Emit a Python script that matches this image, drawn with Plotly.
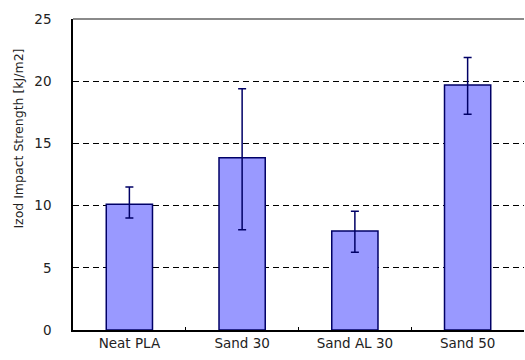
import plotly.graph_objects as go

categories = ["Neat PLA", "Sand 30", "Sand AL 30", "Sand 50"]
values = [10.1, 13.85, 7.95, 19.7]
err_plus = [1.4, 5.55, 1.6, 2.2]
err_minus = [1.1, 5.8, 1.7, 2.35]
y_ticks = [0, 5, 10, 15, 20, 25]

FONT = "DejaVu Sans"

fig = go.Figure()
fig.add_trace(go.Bar(
    x=categories, y=values,
    marker=dict(color="#9999FF", line=dict(color="#000066", width=1.5)),
    error_y=dict(type="data", symmetric=False, array=err_plus, arrayminus=err_minus,
                 color="#000066", thickness=1.5, width=4),
))

fig.update_layout(
    width=525, height=360,
    margin=dict(l=73, r=1, t=19, b=30, autoexpand=False),
    paper_bgcolor="white", plot_bgcolor="white",
    bargap=0.59,
    showlegend=False,
    font=dict(family=FONT, size=13.5, color="#222"),
    xaxis=dict(
        automargin=False,
        showline=True, linecolor="black", linewidth=1.5,
        ticks="inside", tickson="boundaries", ticklen=3, tickcolor="black",
        showgrid=False, tickfont=dict(size=13.5),
    ),
    yaxis=dict(
        automargin=False,
        range=[0, 25], tickvals=y_ticks,
        showline=True, linecolor="black", linewidth=1.5,
        showgrid=True, gridcolor="black", griddash="6px,4px", gridwidth=1.2,
        zeroline=False, ticks="", ticklabelstandoff=17,
        tickfont=dict(size=13.5),
    ),
    shapes=[dict(type="line", xref="paper", yref="paper", x0=0, x1=1, y0=1, y1=1,
                 line=dict(color="#8a8a8a", width=2), layer="above")],
    annotations=[dict(text="Izod Impact Strength [kJ/m2]", textangle=-90,
                      xref="paper", yref="paper", x=-0.12, y=0.615,
                      xanchor="center", yanchor="middle",
                      showarrow=False, font=dict(size=12.5, color="#222"))],
)

fig.write_html("out.html", config={"displayModeBar": False},
               post_script="document.body.style.margin='0';document.body.style.padding='0';")
